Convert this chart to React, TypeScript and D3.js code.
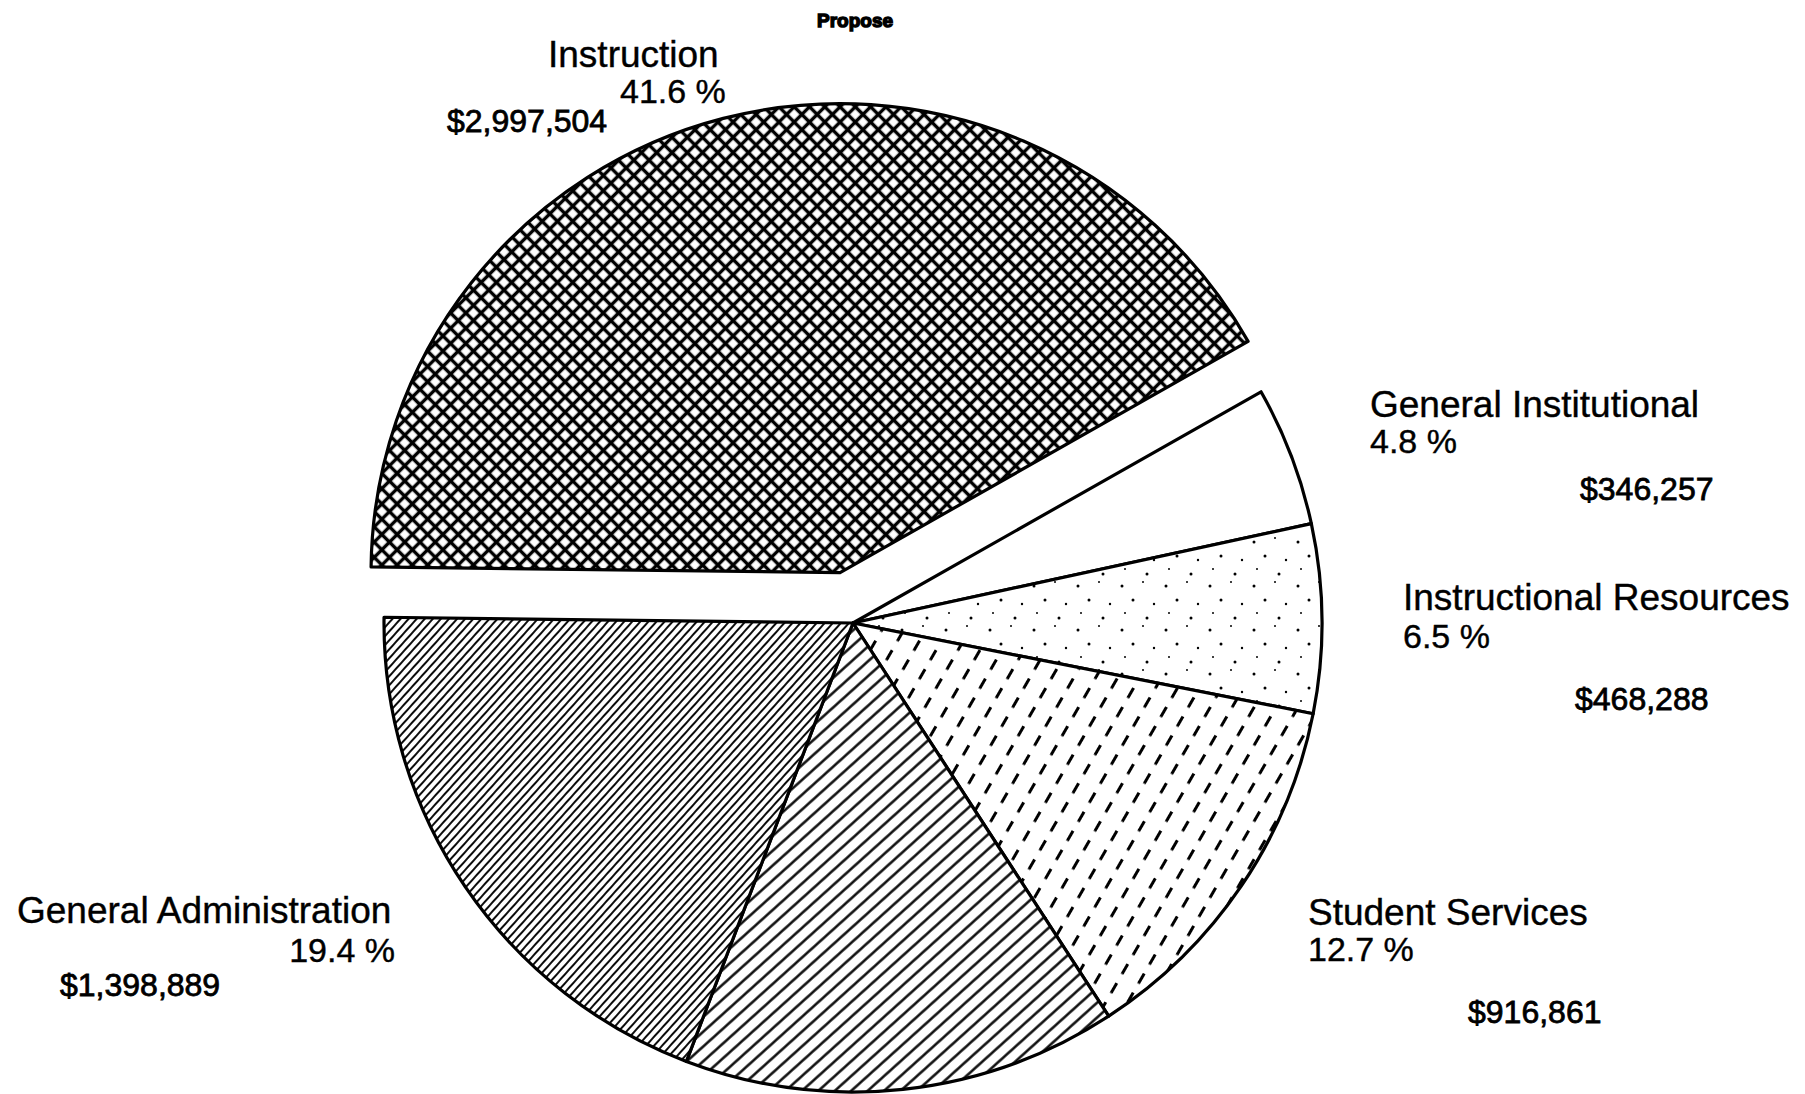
import React from "react";
import * as d3 from "d3";

// ---- data ----
const categories = [
  "Instruction",
  "General Institutional",
  "Instructional Resources",
  "Student Services",
  "Other",
  "General Administration",
];
const amounts = [2997504, 346257, 468288, 916861, 1077739, 1398889];
const labelled = [true, true, true, true, false, true];
const titleText = "Propose";

// ---- layout / style (kept apart from data) ----
const W = 1805;
const H = 1094;
const CX = 853;
const CY = 623;
const R = 469;
const START_DEG = -89.3;
const explode = [52, 0, 0, 0, 0, 0];
const fills = ["url(#p-cross)", "#fff", "url(#p-dots)", "url(#p-dash)", "url(#p-coarse)", "url(#p-fine)"];

type Pos = { x: number; y: number; anchor?: string };
const labelLayout: { name: Pos; pct: Pos; amt: Pos }[] = [
  { name: { x: 548, y: 67 }, pct: { x: 620, y: 103 }, amt: { x: 447, y: 132 } },
  { name: { x: 1370, y: 417 }, pct: { x: 1370, y: 453 }, amt: { x: 1580, y: 500 } },
  { name: { x: 1403, y: 610 }, pct: { x: 1403, y: 648 }, amt: { x: 1575, y: 710 } },
  { name: { x: 1308, y: 925 }, pct: { x: 1308, y: 961 }, amt: { x: 1468, y: 1023 } },
  { name: { x: 0, y: 0 }, pct: { x: 0, y: 0 }, amt: { x: 0, y: 0 } },
  { name: { x: 17, y: 923 }, pct: { x: 395, y: 962, anchor: "end" }, amt: { x: 60, y: 996 } },
];

const FONT = "'Liberation Sans', Arial, Helvetica, sans-serif";

export default function App() {
  const total = d3.sum(amounts);
  const a0 = (START_DEG * Math.PI) / 180;
  const pie = d3
    .pie<number>()
    .sort(null)
    .startAngle(a0)
    .endAngle(a0 + 2 * Math.PI);
  const arcs = pie(amounts);
  const arcGen = d3.arc<d3.PieArcDatum<number>>().innerRadius(0).outerRadius(R);
  const pctFmt = (v: number) => d3.format(".1f")((v / total) * 100) + " %";
  const moneyFmt = d3.format("$,");

  return (
    <svg
      width={W}
      height={H}
      viewBox={`0 0 ${W} ${H}`}
      style={{ position: "absolute", left: 0, top: 0, background: "#fff" }}
    >
      <defs>
        <pattern id="p-cross" patternUnits="userSpaceOnUse" width={10.8} height={10.8} patternTransform="rotate(45)">
          <rect width={10.8} height={10.8} fill="#fff" />
          <path d="M0,5.4H10.8M5.4,0V10.8" stroke="#000" strokeWidth={3.4} />
        </pattern>
        <pattern id="p-dots" patternUnits="userSpaceOnUse" width={44} height={44}>
          <rect width={44} height={44} fill="#fff" />
          <circle cx={5} cy={7} r={1.5} fill="#000" />
          <circle cx={26} cy={3} r={1.0} fill="#000" />
          <circle cx={16} cy={21} r={1.5} fill="#000" />
          <circle cx={37} cy={25} r={1.2} fill="#000" />
          <circle cx={8} cy={34} r={1.0} fill="#000" />
          <circle cx={30} cy={39} r={1.5} fill="#000" />
        </pattern>
        <pattern id="p-dash" patternUnits="userSpaceOnUse" width={19} height={22} patternTransform="rotate(30)">
          <rect width={19} height={22} fill="#fff" />
          <path d="M9.5,4V15.5" stroke="#000" strokeWidth={3} />
        </pattern>
        <pattern id="p-coarse" patternUnits="userSpaceOnUse" width={11} height={11} patternTransform="rotate(48)">
          <rect width={11} height={11} fill="#fff" />
          <path d="M5.5,0V11" stroke="#000" strokeWidth={2.4} />
        </pattern>
        <pattern id="p-fine" patternUnits="userSpaceOnUse" width={6} height={6} patternTransform="rotate(42)">
          <rect width={6} height={6} fill="#fff" />
          <path d="M3,0V6" stroke="#000" strokeWidth={1.9} />
        </pattern>
      </defs>

      <rect width={W} height={H} fill="#fff" />

      <text
        x={817}
        y={27}
        fontFamily={FONT}
        fontWeight="bold"
        fontSize={19}
        stroke="#000"
        strokeWidth={1.4}
        fill="#000"
      >
        {titleText}
      </text>

      <g transform={`translate(${CX},${CY})`}>
        {arcs.map((a, i) => {
          const mid = (a.startAngle + a.endAngle) / 2;
          const dx = Math.sin(mid) * explode[i];
          const dy = -Math.cos(mid) * explode[i];
          return (
            <path
              key={categories[i]}
              d={arcGen(a) || ""}
              transform={`translate(${dx},${dy})`}
              fill={fills[i]}
              stroke="#000"
              strokeWidth={3.2}
              strokeLinejoin="round"
            />
          );
        })}
      </g>

      <g fontFamily={FONT} fill="#000" stroke="#000" strokeWidth={0.4}>
        {categories.map((c, i) => {
          if (!labelled[i]) return null;
          const L = labelLayout[i];
          return (
            <g key={c}>
              <text x={L.name.x} y={L.name.y} fontSize={37} textAnchor={L.name.anchor || "start"}>
                {c}
              </text>
              <text x={L.pct.x} y={L.pct.y} fontSize={34} textAnchor={L.pct.anchor || "start"}>
                {pctFmt(amounts[i])}
              </text>
              <text
                x={L.amt.x}
                y={L.amt.y}
                fontSize={32}
                textAnchor={L.amt.anchor || "start"}
                strokeWidth={0.8}
              >
                {moneyFmt(amounts[i])}
              </text>
            </g>
          );
        })}
      </g>
    </svg>
  );
}
